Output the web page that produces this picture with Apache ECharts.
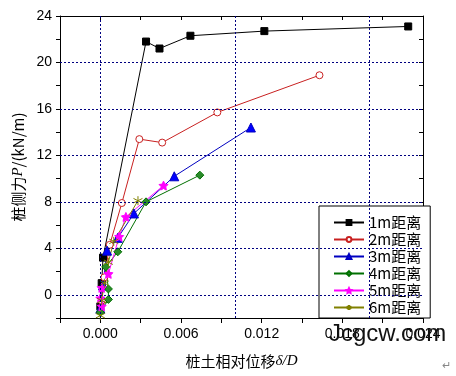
<!DOCTYPE html>
<html>
<head>
<meta charset="utf-8">
<script src="https://cdn.jsdelivr.net/npm/echarts@6/dist/echarts.min.js"></script>
<style>
  html, body { margin: 0; padding: 0; background: #fff; }
  #chart { width: 456px; height: 376px; }
</style>
</head>
<body>
<div id="chart"></div>
<script>
// series names
const names = ['1m距离', '2m距离', '3m距离', '4m距离', '5m距离', '6m距离'];

// displacement (x) and lateral force (y)
const s1x = [0.0000, 0.0001, 0.0002, 0.0034, 0.0044, 0.0067, 0.0122, 0.0229];
const s1y = [-1.0, 1.0, 3.2, 21.8, 21.2, 22.3, 22.7, 23.1];
const s2x = [0.0001, 0.0003, 0.0007, 0.0016, 0.0029, 0.0046, 0.0087, 0.0163];
const s2y = [-0.5, 1.5, 4.3, 7.9, 13.4, 13.1, 15.7, 18.9];
const s3x = [0.0000, 0.0002, 0.0005, 0.0013, 0.0025, 0.0055, 0.0112];
const s3y = [-1.2, 0.8, 3.8, 4.9, 7.0, 10.2, 14.4];
const s4x = [0.0000, 0.0006, 0.0006, 0.0004, 0.0013, 0.0034, 0.0074];
const s4y = [-1.5, -0.4, 0.5, 2.4, 3.7, 8.0, 10.3];
const s5x = [0.0001, 0.0000, 0.0001, 0.0006, 0.0014, 0.0019, 0.0047];
const s5y = [-1.0, -0.3, 0.6, 1.8, 5.0, 6.7, 9.4];
const s6x = [0.0000, 0.0001, 0.0003, 0.0006, 0.0010, 0.0028];
const s6y = [-1.8, -0.5, 1.0, 2.8, 4.6, 8.1];

// ticks with grid lines
const xGridTicks = [0, 0.006, 0.012, 0.018];
const yGridTicks = [0, 4, 8, 12, 16, 20];

const zip = (xs, ys) => xs.map((x, i) => [x, ys[i]]);

const chart = echarts.init(document.getElementById('chart'));

const asterisk = 'path://M0,-5L0,5M-4.3,-2.5L4.3,2.5M-4.3,2.5L4.3,-2.5';
const star = 'path://M0,-10L2.9,-4L9.5,-3.1L4.8,1.5L5.9,8.1L0,5L-5.9,8.1L-4.8,1.5L-9.5,-3.1L-2.9,-4Z';

function lineSeries(name, data, color, symbol, size, fill) {
    return {
        name: name,
        type: 'line',
        data: data,
        symbol: symbol,
        symbolSize: size,
        z: 3,
        lineStyle: { color: color, width: 1 },
        itemStyle: { color: fill, borderColor: color, borderWidth: 1 },
        emphasis: { disabled: true },
        animation: false
    };
}

const font = 'Liberation Sans, Arial, sans-serif';

chart.setOption({
    animation: false,
    grid: { left: 60, right: 33, top: 16, bottom: 58 },
    xAxis: [
        {
            type: 'value',
            min: -0.003, max: 0.024, interval: 0.003,
            name: '{a|桩土相对位移}{i|δ/D}',
            nameLocation: 'middle',
            nameGap: 36,
            nameTextStyle: {
                rich: {
                    a: { fontSize: 15, color: '#000', fontFamily: 'Noto Sans CJK SC' },
                    i: { fontSize: 15, color: '#000', fontStyle: 'italic', fontFamily: 'Liberation Serif' }
                }
            },
            axisLine: { onZero: false, lineStyle: { color: '#000', width: 1 } },
            axisTick: { length: 5, lineStyle: { color: '#000' } },
            axisLabel: {
                margin: 9, fontSize: 14, color: '#000', fontFamily: font,
                formatter: function (v) {
                    const k = v / 0.006;
                    return Math.abs(k - Math.round(k)) < 1e-6 ? v.toFixed(3) : '';
                }
            },
            splitLine: { show: false }
        },
        {
            type: 'value', position: 'top',
            min: -0.003, max: 0.024, interval: 0.003,
            axisLine: { onZero: false, lineStyle: { color: '#000', width: 1 } },
            axisTick: { inside: true, length: 4, lineStyle: { color: '#000' } },
            axisLabel: { show: false },
            splitLine: { show: false }
        }
    ],
    yAxis: [
        {
            type: 'value',
            min: -2, max: 24, interval: 2,
            name: '{a|桩侧力}{i|P}{a|/(kN/m)}',
            nameLocation: 'middle',
            nameGap: 28,
            nameTextStyle: {
                rich: {
                    a: { fontSize: 15, color: '#000', fontFamily: 'Noto Sans CJK SC' },
                    i: { fontSize: 15, color: '#000', fontStyle: 'italic', fontFamily: 'Liberation Serif' }
                }
            },
            axisLine: { onZero: false, lineStyle: { color: '#000', width: 1 } },
            axisTick: { length: 4, lineStyle: { color: '#000' } },
            axisLabel: {
                margin: 8, fontSize: 14, color: '#000', fontFamily: font,
                formatter: function (v) { return v % 4 === 0 ? String(v) : ''; }
            },
            splitLine: { show: false }
        },
        {
            type: 'value', position: 'right',
            min: -2, max: 24, interval: 2,
            axisLine: { onZero: false, lineStyle: { color: '#000', width: 1 } },
            axisTick: { inside: true, length: 4, lineStyle: { color: '#000' } },
            axisLabel: { show: false },
            splitLine: { show: false }
        }
    ],
    legend: {
        data: names,
        orient: 'vertical',
        left: 319, top: 206,
        padding: [9, 9, 3, 14],
        itemWidth: 30, itemHeight: 6, itemGap: 2,
        backgroundColor: '#fff',
        borderColor: '#000', borderWidth: 1,
        textStyle: { fontSize: 15, color: '#000', fontFamily: 'Noto Sans CJK SC', lineHeight: 15 }
    },
    graphic: [
        {
            type: 'text', left: 329, top: 322, z: 100,
            style: { text: 'Jcgcw.com', font: '24px Liberation Sans, Arial, sans-serif', fill: '#111' }
        },
        {
            type: 'text', left: 442, top: 360, z: 100,
            style: { text: '↵', font: '11px sans-serif', fill: '#888' }
        }
    ],
    series: [
        {
            type: 'line', data: [], z: 1, silent: true,
            markLine: {
                silent: true, symbol: 'none', animation: false,
                label: { show: false },
                lineStyle: { color: '#000080', type: [2, 2], width: 1 },
                emphasis: { disabled: true },
                data: xGridTicks.map(v => ({ xAxis: v })).concat(yGridTicks.map(v => ({ yAxis: v })))
            }
        },
        lineSeries(names[0], zip(s1x, s1y), '#000000', 'rect', 7, '#000000'),
        lineSeries(names[1], zip(s2x, s2y), '#c82020', 'circle', 7, '#ffffff'),
        lineSeries(names[2], zip(s3x, s3y), '#0000c0', 'triangle', 9, '#0000ff'),
        lineSeries(names[3], zip(s4x, s4y), '#007000', 'diamond', 8, '#2a8a2a'),
        lineSeries(names[4], zip(s5x, s5y), '#ff00ff', star, 9, '#ff00ff'),
        lineSeries(names[5], zip(s6x, s6y), '#808000', asterisk, 9, 'none')
    ]
});
</script>
</body>
</html>
